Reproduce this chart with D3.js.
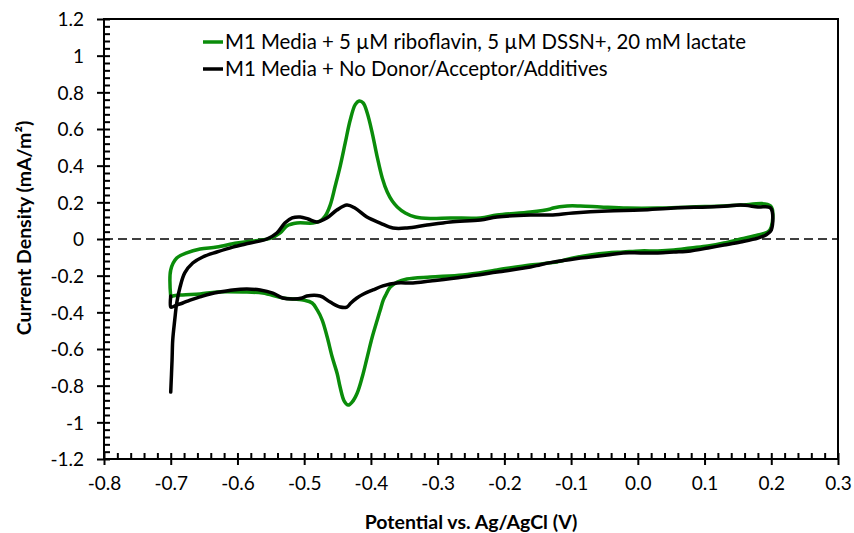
<!DOCTYPE html>
<html>
<head>
<meta charset="utf-8">
<script src="https://cdn.jsdelivr.net/npm/d3@7/dist/d3.min.js"></script>
<style>
  html, body { margin: 0; padding: 0; background: #fff; }
  svg { display: block; font-family: Lato, "Open Sans", sans-serif; }
</style>
</head>
<body>
<svg id="chart" width="854" height="533"></svg>
<script>
// Cyclic voltammograms: potential (V vs. Ag/AgCl) and current density (mA/m²)
const seriesNames = [
  "M1 Media + 5 \u00b5M riboflavin, 5 \u00b5M DSSN+, 20 mM lactate",
  "M1 Media + No Donor/Acceptor/Additives"
];
const seriesColors = ["#0a8c0a", "#000000"];

// riboflavin + DSSN+ + lactate
const riboPotential = [
  -0.700, -0.700, -0.691, -0.676, -0.656, -0.631, -0.601, -0.577, -0.551, -0.536,
  -0.526, -0.511, -0.487, -0.476, -0.4685, -0.461, -0.4535, -0.446, -0.4385, -0.431,
  -0.4235, -0.4175, -0.4115, -0.4055, -0.398, -0.3905, -0.383, -0.3755, -0.368, -0.3605,
  -0.3485, -0.3335, -0.311, -0.281, -0.236, -0.211, -0.161, -0.131, -0.127, -0.106,
  -0.086, -0.056, -0.016, 0.030, 0.079, 0.129, 0.154, 0.199, 0.200, 0.195,
  0.180, 0.154, 0.129, 0.105, 0.079, 0.054, 0.030, 0.004, -0.022, -0.046,
  -0.071, -0.097, -0.121, -0.131, -0.161, -0.211, -0.262, -0.311, -0.346, -0.3605,
  -0.371, -0.377, -0.3815, -0.386, -0.3905, -0.398, -0.4055, -0.413, -0.4205, -0.428,
  -0.434, -0.440, -0.446, -0.4505, -0.458, -0.4655, -0.473, -0.4805, -0.488, -0.5015,
  -0.532, -0.562, -0.592, -0.631, -0.656, -0.682, -0.697, -0.700
];
const riboCurrent = [
  -0.316, -0.169, -0.104, -0.076, -0.055, -0.044, -0.022, -0.011, 0.003, 0.033,
  0.071, 0.087, 0.087, 0.098, 0.125, 0.185, 0.289, 0.398, 0.524, 0.649,
  0.733, 0.753, 0.742, 0.687, 0.578, 0.447, 0.333, 0.256, 0.207, 0.175,
  0.142, 0.120, 0.112, 0.115, 0.115, 0.131, 0.147, 0.164, 0.169, 0.180,
  0.180, 0.175, 0.169, 0.169, 0.175, 0.180, 0.185, 0.180, 0.065, 0.038,
  0.022, 0.000, -0.022, -0.038, -0.049, -0.060, -0.065, -0.065, -0.071, -0.076,
  -0.087, -0.104, -0.125, -0.130, -0.142, -0.169, -0.196, -0.207, -0.218, -0.235,
  -0.262, -0.300, -0.333, -0.387, -0.442, -0.535, -0.644, -0.753, -0.840, -0.889,
  -0.906, -0.884, -0.810, -0.735, -0.644, -0.535, -0.442, -0.387, -0.349, -0.333,
  -0.322, -0.295, -0.289, -0.289, -0.300, -0.305, -0.311, -0.316
];

// blank medium, no donor / acceptor / additives
const blankPotential = [
  -0.700, -0.698, -0.697, -0.694, -0.691, -0.686, -0.679, -0.667, -0.652, -0.631,
  -0.607, -0.581, -0.556, -0.541, -0.529, -0.518, -0.506, -0.494, -0.481, -0.466,
  -0.451, -0.436, -0.424, -0.406, -0.386, -0.367, -0.346, -0.316, -0.281, -0.236,
  -0.211, -0.161, -0.131, -0.097, -0.046, 0.004, 0.054, 0.105, 0.135, 0.154,
  0.180, 0.199, 0.200, 0.192, 0.180, 0.154, 0.129, 0.105, 0.079, 0.054,
  0.030, 0.004, -0.022, -0.046, -0.071, -0.086, -0.106, -0.127, -0.146, -0.161,
  -0.211, -0.262, -0.311, -0.337, -0.361, -0.382, -0.397, -0.411, -0.421, -0.430,
  -0.436, -0.446, -0.461, -0.476, -0.496, -0.503, -0.517, -0.532, -0.547, -0.566,
  -0.586, -0.607, -0.626, -0.641, -0.656, -0.671, -0.682, -0.691, -0.698, -0.700,
  -0.700
];
const blankCurrent = [
  -0.835, -0.660, -0.551, -0.442, -0.349, -0.262, -0.185, -0.131, -0.098, -0.071,
  -0.044, -0.022, 0.000, 0.033, 0.087, 0.115, 0.120, 0.109, 0.093, 0.115,
  0.158, 0.185, 0.169, 0.120, 0.087, 0.060, 0.060, 0.076, 0.093, 0.104,
  0.120, 0.131, 0.131, 0.142, 0.153, 0.158, 0.169, 0.175, 0.180, 0.185,
  0.175, 0.169, 0.049, 0.022, 0.005, -0.016, -0.033, -0.049, -0.065, -0.071,
  -0.076, -0.076, -0.076, -0.087, -0.098, -0.104, -0.115, -0.126, -0.140, -0.153,
  -0.180, -0.207, -0.229, -0.240, -0.240, -0.256, -0.278, -0.300, -0.322, -0.349,
  -0.371, -0.371, -0.344, -0.311, -0.311, -0.322, -0.327, -0.322, -0.295, -0.278,
  -0.273, -0.278, -0.289, -0.300, -0.316, -0.333, -0.349, -0.360, -0.371, -0.371,
  -0.311
];

const xTickValues = [-0.8, -0.7, -0.6, -0.5, -0.4, -0.3, -0.2, -0.1, 0.0, 0.1, 0.2, 0.3];
const yTickValues = [-1.2, -1, -0.8, -0.6, -0.4, -0.2, 0, 0.2, 0.4, 0.6, 0.8, 1, 1.2];
const xTitle = "Potential vs. Ag/AgCl (V)";
const yTitle = "Current Density (mA/m\u00b2)";

const svg = d3.select("#chart");
const plot = { left: 104, right: 838, top: 19, bottom: 459 };

const x = d3.scaleLinear().domain([-0.8, 0.3]).range([plot.left, plot.right]);
const y = d3.scaleLinear().domain([-1.2, 1.2]).range([plot.bottom, plot.top]);

// zero reference line
svg.append("line")
  .attr("x1", x(-0.8)).attr("x2", x(0.3))
  .attr("y1", y(0)).attr("y2", y(0))
  .attr("stroke", "#000").attr("stroke-width", 1.5)
  .attr("stroke-dasharray", "9,5");

// curves
const line = d3.line()
  .x(d => x(d[0])).y(d => y(d[1]))
  .curve(d3.curveCatmullRom.alpha(0.5));

const series = [
  { pts: d3.zip(riboPotential, riboCurrent), color: seriesColors[0] },
  { pts: d3.zip(blankPotential, blankCurrent), color: seriesColors[1] }
];
svg.selectAll("path.cv").data(series).join("path")
  .attr("class", "cv")
  .attr("d", d => line(d.pts))
  .attr("fill", "none")
  .attr("stroke", d => d.color)
  .attr("stroke-width", 3.5)
  .attr("stroke-linejoin", "round")
  .attr("stroke-linecap", "round");

// frame
svg.append("rect")
  .attr("x", plot.left).attr("y", plot.top)
  .attr("width", plot.right - plot.left).attr("height", plot.bottom - plot.top)
  .attr("fill", "none").attr("stroke", "#000").attr("stroke-width", 2);

// y axis: outer half of major ticks with labels, inner ticks incl. minors
const yMinor = d3.range(-1.2, 1.2001, 0.04);
const yAxisOuter = svg.append("g")
  .attr("transform", `translate(${plot.left},0)`)
  .call(d3.axisLeft(y).tickValues(yTickValues).tickSize(7).tickPadding(13)
    .tickFormat(d => String(+d.toFixed(1))));
const yAxisInner = svg.append("g")
  .attr("transform", `translate(${plot.left},0)`)
  .call(d3.axisRight(y).tickValues(yMinor).tickSize(6).tickFormat(""));

// x axis
const xMinor = d3.range(-0.8, 0.3001, 0.02);
const xAxisOuter = svg.append("g")
  .attr("transform", `translate(0,${plot.bottom})`)
  .call(d3.axisBottom(x).tickValues(xTickValues).tickSize(6).tickPadding(12)
    .tickFormat(d => d.toFixed(1)));
const xAxisInner = svg.append("g")
  .attr("transform", `translate(0,${plot.bottom})`)
  .call(d3.axisTop(x).tickValues(xMinor).tickSize(6).tickFormat(""));

[yAxisOuter, yAxisInner, xAxisOuter, xAxisInner].forEach(g => {
  g.select(".domain").remove();
  g.selectAll(".tick line").attr("stroke", "#000").attr("stroke-width", 2);
  g.selectAll("text").attr("fill", "#000")
    .style("font-family", "Lato, 'Open Sans', sans-serif")
    .style("font-size", "19px");
});
yAxisOuter.selectAll("text").attr("dy", "0.36em");

// axis titles
svg.append("text")
  .attr("x", (plot.left + plot.right) / 2).attr("y", 529)
  .attr("text-anchor", "middle")
  .style("font-weight", "bold").style("font-size", "19.5px")
  .text(xTitle);

svg.append("text")
  .attr("transform", "translate(31,228) rotate(-90)")
  .attr("text-anchor", "middle")
  .style("font-weight", "bold").style("font-size", "19.5px")
  .text(yTitle);

// legend
const legend = svg.append("g").attr("transform", "translate(203,42)");
const entries = legend.selectAll("g").data(seriesNames).join("g")
  .attr("transform", (d, i) => `translate(0,${i * 27})`);
entries.append("line")
  .attr("x1", 0).attr("x2", 20).attr("y1", 0).attr("y2", 0)
  .attr("stroke", (d, i) => seriesColors[i]).attr("stroke-width", 3.5);
entries.append("text")
  .attr("x", 22).attr("y", 0).attr("dy", "0.35em")
  .style("font-size", "20.4px")
  .text(d => d);
</script>
</body>
</html>
